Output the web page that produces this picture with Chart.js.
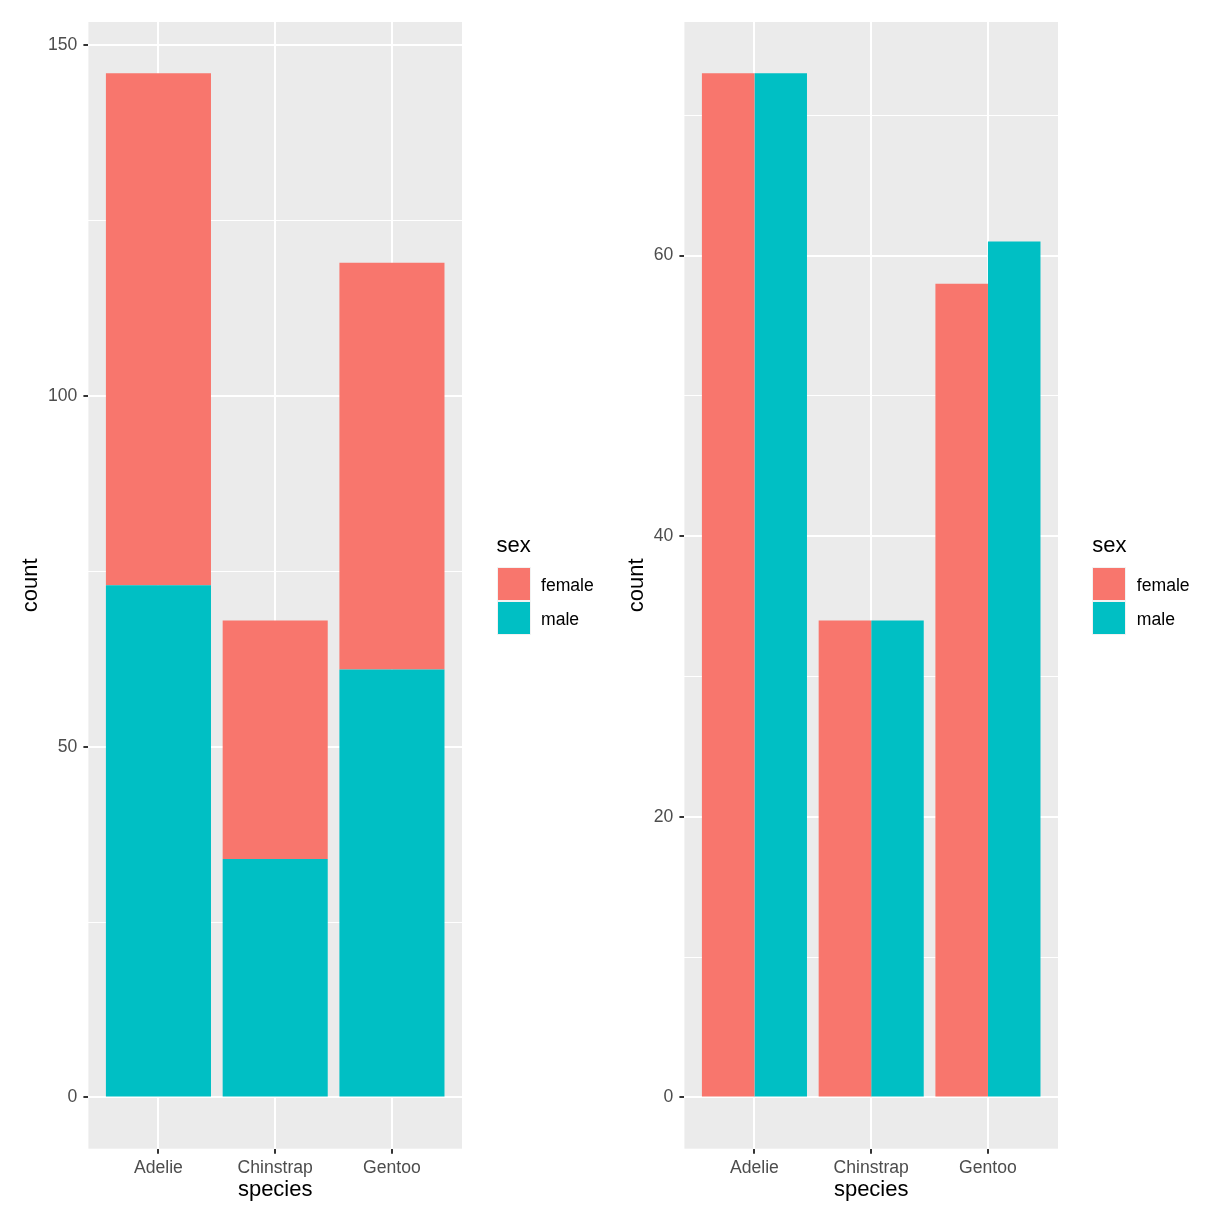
<!DOCTYPE html>
<html lang="en">
<head>
    <meta charset="UTF-8">
    <title>Penguins by species and sex</title>
    <script src="https://cdn.jsdelivr.net/npm/chart.js"></script>
    <style>
        body {
            margin: 0;
            background: #fff;
            font-family: "Liberation Sans", Arial, sans-serif;
        }
        .wrap {
            position: relative;
            width: 1224px;
            height: 1224px;
        }
        canvas {
            position: absolute;
            top: 0;
        }
        .legend {
            position: absolute;
            top: 0;
        }
        .legend .title {
            position: absolute;
            left: 0;
            top: 534px;
            font-size: 22px;
            line-height: 22px;
            color: #000;
            white-space: nowrap;
        }
        .legend .key {
            position: absolute;
            left: 0;
            width: 34px;
            height: 34px;
            background: #f2f2f2;
        }
        .legend .key div {
            position: absolute;
            left: 1px;
            top: 1px;
            width: 32px;
            height: 32px;
        }
        .legend .lab {
            position: absolute;
            left: 44.5px;
            font-size: 17.6px;
            line-height: 17.6px;
            color: #000;
            white-space: nowrap;
        }
    </style>
</head>
<body>
<div class="wrap">
    <canvas id="stacked" width="612" height="1224" style="left:0"></canvas>
    <canvas id="dodged" width="612" height="1224" style="left:596px"></canvas>
    <div class="legend" id="legLeft" style="left:496.5px"></div>
    <div class="legend" id="legRight" style="left:1092.3px"></div>
</div>
<script>
    // data: palmer penguins counts
    const species = ['Adelie', 'Chinstrap', 'Gentoo'];
    const sexes = ['female', 'male'];
    const female = [73, 34, 58];
    const male = [73, 34, 61];

    const stackMajor = [0, 50, 100, 150];
    const stackMinor = [25, 75, 125];
    const dodgeMajor = [0, 20, 40, 60];
    const dodgeMinor = [10, 30, 50, 70];

    const colFemale = '#F8766D';
    const colMale = '#00BFC4';

    Chart.defaults.font.family = '"Liberation Sans", Arial, sans-serif';

    // grey panel behind the bars
    const panelBg = {
        id: 'panelBg',
        beforeDraw(chart) {
            const a = chart.chartArea;
            const ctx = chart.ctx;
            ctx.save();
            ctx.fillStyle = '#EBEBEB';
            ctx.fillRect(a.left, a.top, a.right - a.left, a.bottom - a.top);
            ctx.restore();
        }
    };

    function toPoints(vals) {
        return vals.map((v, i) => ({x: i + 1, y: v}));
    }

    function makeChart(id, datasets, stacked, major, minor, yMin, yMax, titlePad) {
        const allTicks = major.concat(minor).sort((a, b) => a - b);
        return new Chart(document.getElementById(id), {
            type: 'bar',
            data: {datasets: datasets},
            plugins: [panelBg],
            options: {
                responsive: false,
                animation: false,
                events: [],
                layout: {padding: {top: 22, right: 150, bottom: 0, left: 0}},
                plugins: {legend: {display: false}, tooltip: {enabled: false}},
                datasets: {bar: {categoryPercentage: 0.9, barPercentage: 1.0}},
                scales: {
                    x: {
                        type: 'linear',
                        stacked: stacked,
                        min: 0.4,
                        max: 3.6,
                        offset: false,
                        afterBuildTicks: s => { s.ticks = species.map((c, i) => ({value: i + 1})); },
                        afterFit: s => { s.height = 75.3; },
                        ticks: {
                            callback: v => species[v - 1],
                            color: '#4D4D4D',
                            font: {size: 17.6},
                            padding: 4,
                            maxRotation: 0,
                            autoSkip: false
                        },
                        grid: {
                            offset: false,
                            color: '#FFFFFF',
                            lineWidth: 2,
                            tickColor: '#333333',
                            tickWidth: 2,
                            tickLength: 5
                        },
                        border: {display: false},
                        title: {
                            display: true,
                            text: 'species',
                            color: '#000',
                            font: {size: 22},
                            padding: {top: 0, bottom: 20.5}
                        }
                    },
                    y: {
                        stacked: stacked,
                        min: yMin,
                        max: yMax,
                        afterBuildTicks: s => { s.ticks = allTicks.map(v => ({value: v})); },
                        afterFit: s => { s.width = 88.4; },
                        ticks: {
                            callback: v => major.includes(v) ? String(v) : '',
                            color: '#4D4D4D',
                            font: {size: 17.6},
                            padding: 6,
                            autoSkip: false
                        },
                        grid: {
                            color: '#FFFFFF',
                            lineWidth: c => major.includes(c.tick.value) ? 2 : 1,
                            tickColor: c => major.includes(c.tick.value) ? '#333333' : 'rgba(0,0,0,0)',
                            tickWidth: 2,
                            tickLength: 5
                        },
                        border: {display: false},
                        title: {
                            display: true,
                            text: 'count',
                            color: '#000',
                            font: {size: 22},
                            padding: {top: titlePad, bottom: 0}
                        }
                    }
                }
            }
        });
    }

    // stacked: male drawn first so it sits at the bottom
    makeChart('stacked', [
        {label: 'male', data: toPoints(male), backgroundColor: colMale},
        {label: 'female', data: toPoints(female), backgroundColor: colFemale}
    ], true, stackMajor, stackMinor, -7.3, 153.3, 18);

    makeChart('dodged', [
        {label: 'female', data: toPoints(female), backgroundColor: colFemale},
        {label: 'male', data: toPoints(male), backgroundColor: colMale}
    ], false, dodgeMajor, dodgeMinor, -3.65, 76.65, 27.3);

    function buildLegend(id) {
        const el = document.getElementById(id);
        const cols = [colFemale, colMale];
        let html = '<div class="title">sex</div>';
        sexes.forEach((s, i) => {
            const top = 567 + i * 34;
            html += '<div class="key" style="top:' + top + 'px"><div style="background:' + cols[i] + '"></div></div>';
            html += '<div class="lab" style="top:' + (top + 9.5) + 'px">' + s + '</div>';
        });
        el.innerHTML = html;
    }
    buildLegend('legLeft');
    buildLegend('legRight');
</script>
</body>
</html>
